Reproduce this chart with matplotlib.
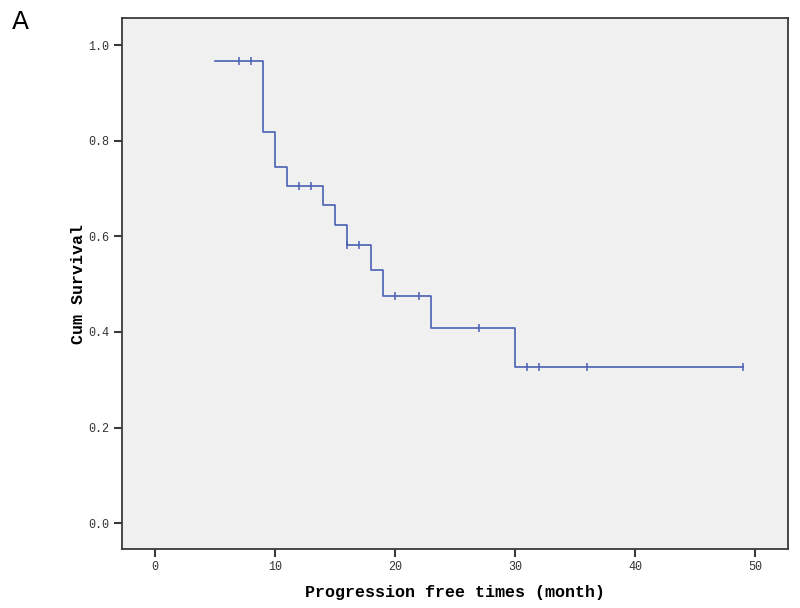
import matplotlib.pyplot as plt
import numpy as np

# Kaplan-Meier steps
step_times = [5, 9, 10, 11, 14, 15, 16, 18, 19, 23, 30, 49]
step_surv = [0.967, 0.818, 0.744, 0.706, 0.665, 0.623, 0.581, 0.529, 0.476, 0.408, 0.327, 0.327]

# censored observations
censor_times = [7, 8, 12, 13, 16, 17, 20, 22, 27, 31, 32, 36, 49]
censor_surv = [0.967, 0.967, 0.706, 0.706, 0.581, 0.581, 0.476, 0.476, 0.408, 0.327, 0.327, 0.327, 0.327]

x_ticks = [0, 10, 20, 30, 40, 50]
y_ticks = [0.0, 0.2, 0.4, 0.6, 0.8, 1.0]

line_color = '#4a5fb3'
frame_color = '#3a3a3a'

fig = plt.figure(figsize=(8, 6.08), dpi=100)
ax = fig.add_axes([122 / 800, 1 - 549 / 608, (788 - 122) / 800, (549 - 18) / 608])
ax.set_facecolor('#f0f0f0')

ax.step(step_times, step_surv, where='post', color=line_color, lw=1.2)
ax.plot(censor_times, censor_surv, ls='none', marker='|', ms=5.5, mew=1.1, color=line_color)

ax.set_xlim(-2.75, 52.75)
ax.set_ylim(-0.054, 1.0565)
ax.set_xticks(x_ticks)
ax.set_yticks(y_ticks)
ax.set_xticklabels([str(t) for t in x_ticks], fontfamily='Liberation Mono', fontsize=8.5, color='#333333')
ax.set_yticklabels([f"{t:.1f}" for t in y_ticks], fontfamily='Liberation Mono', fontsize=8.5, color='#333333')
ax.tick_params(direction='out', length=6, width=1.5, color=frame_color, pad=3)

for s in ax.spines.values():
    s.set_color(frame_color)
    s.set_linewidth(1.3)

ax.set_xlabel('Progression free times (month)', fontfamily='Liberation Mono', fontweight='bold',
              fontsize=12, labelpad=8)
ax.set_ylabel('Cum Survival', fontfamily='Liberation Mono', fontweight='bold', fontsize=12, labelpad=2)

fig.text(12 / 800, 1 - 22 / 608, 'A', fontsize=18, va='center', ha='left', fontfamily='DejaVu Sans')

fig.savefig('out.png', dpi=100)
